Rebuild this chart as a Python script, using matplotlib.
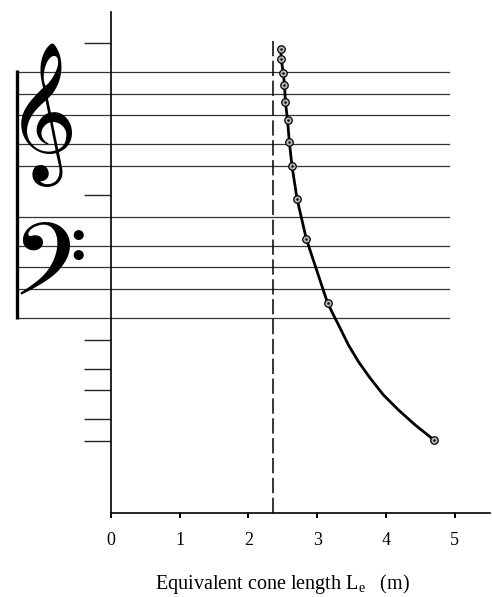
import matplotlib
matplotlib.use("Agg")
import matplotlib.pyplot as plt
from matplotlib.font_manager import FontProperties
from matplotlib.textpath import TextPath

# ---- data (y in MIDI note numbers, x in metres) ----
marker_L = [2.471, 2.478, 2.507, 2.525, 2.539, 2.57, 2.595, 2.634, 2.707, 2.843, 3.151, 4.706]
marker_note = [80.2, 78.75, 76.8, 75.25, 72.8, 70.3, 67.35, 64.0, 59.5, 53.9, 45.1, 26.1]
curve_L = [2.471, 2.478, 2.507, 2.525, 2.539, 2.57, 2.595, 2.634, 2.707, 2.843, 3.151,
           3.238, 3.336, 3.456, 3.602, 3.772, 3.965, 4.183, 4.426, 4.706]
curve_note = [80.2, 78.75, 76.8, 75.25, 72.8, 70.3, 67.35, 64.0, 59.5, 53.9, 45.1,
              43.41, 41.57, 39.26, 36.95, 34.68, 32.36, 30.29, 28.22, 26.1]
treble_staff = [77, 74, 71, 67, 64]
bass_staff = [57, 53, 50, 47, 43]
ledger_ticks = [81, 60, 40, 36, 33, 29, 26]
cone_limit = 2.36
x_ticks = [0, 1, 2, 3, 4, 5]
x_label = "Equivalent cone length L$_\\mathrm{e}$   (m)"

W, H = 492, 597
plt.rcParams['mathtext.fontset'] = 'custom'
plt.rcParams['mathtext.rm'] = 'Liberation Serif'
plt.rcParams['mathtext.it'] = 'Liberation Serif:italic'

fig = plt.figure(figsize=(W / 100, H / 100), dpi=100)
ax = fig.add_axes([111 / W, 1 - 513 / H, 379 / W, 501 / H])
ax.set_xlim(0, (490 - 110.5) / 68.8)
ax.set_ylim(16.05, 85.28)
for s in ['top', 'right']:
    ax.spines[s].set_visible(False)
for s in ['left', 'bottom']:
    ax.spines[s].set_linewidth(1.2)
    ax.spines[s].set_color('black')

ax.set_xticks(x_ticks)
ax.set_xticklabels([str(t) for t in x_ticks], family='Liberation Serif', fontsize=13)
ax.tick_params(axis='x', direction='out', length=3.6, width=1.4, pad=10)
ax.set_yticks(ledger_ticks)
ax.set_yticklabels([])
ax.tick_params(axis='y', direction='out', length=19.5, width=1.0, color='#222222')
ax.set_xlabel(x_label, family='Liberation Serif', fontsize=14.5)
ax.xaxis.set_label_coords((282 - 111) / 379, -(584 - 513) / 501)
ax.xaxis.label.set_verticalalignment('center')

# staff lines
x_left = (16 - 110.5) / 68.8
x_right = (449 - 110.5) / 68.8
for y in treble_staff + bass_staff:
    ax.plot([x_left, x_right], [y, y], color='#333333', lw=0.9, clip_on=False, zorder=1)
# bracket
ax.plot([x_left, x_left], [max(treble_staff) + 0.3, min(bass_staff) - 0.1],
        color='black', lw=2.4, clip_on=False, solid_capstyle='butt', zorder=2)

# dashed limit
ax.plot([cone_limit, cone_limit], [16.05, 81.4], color='black', lw=1.1,
        dashes=(10, 3), zorder=2)

# curve and measured points
ax.plot(curve_L, curve_note, color='black', lw=2.0, zorder=3,
        solid_capstyle='round', solid_joinstyle='round')
ax.plot(marker_L, marker_note, linestyle='none', marker='o', ms=5.4,
        mfc='#b8b8b8', mec='black', mew=0.9, zorder=4)
ax.plot(marker_L, marker_note, linestyle='none', marker='.', ms=1.5,
        color='black', zorder=5)


def place_glyph(ch, left, top, right, bottom):
    fp = FontProperties(family='Noto Music')
    ext = TextPath((0, 0), ch, size=1, prop=fp).get_extents()
    target_h = bottom - top
    size_pt = target_h * 0.72 / ext.height
    scale = size_pt / 0.72
    cx = (left + right) / 2
    x0 = cx - (ext.x0 + ext.width / 2) * scale
    base = bottom + ext.y0 * scale
    fig.text(x0 / W, 1 - base / H, ch, family='Noto Music', fontsize=size_pt,
             ha='left', va='baseline')


place_glyph('\U0001D11E', 24, 43, 68, 187)
place_glyph('\U0001D122', 30, 221, 74, 294)

fig.savefig('out.png', dpi=100)
